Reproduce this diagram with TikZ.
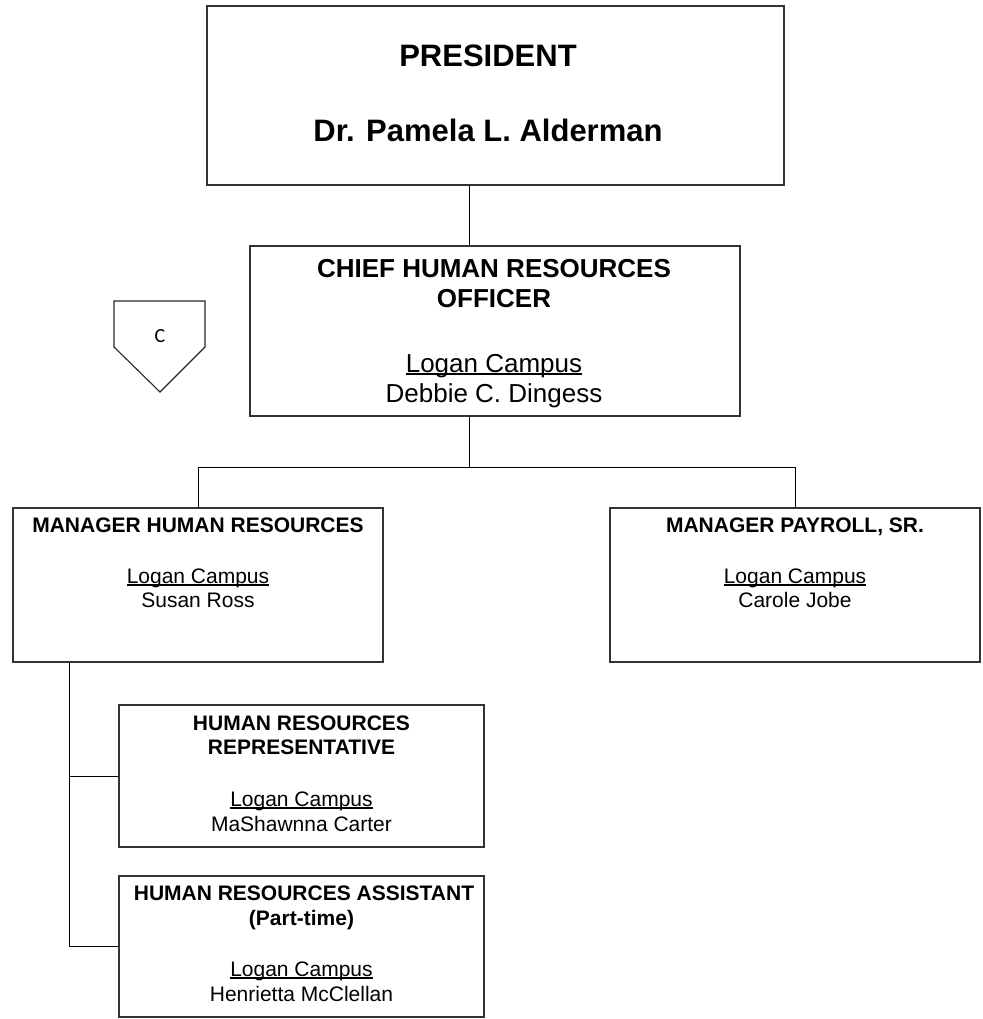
\documentclass[tikz,border=0pt]{standalone}
\usepackage{fontspec}
\setmainfont{Liberation Sans}
\newfontfamily\calfont{Carlito}
\newcommand\campusline[1]{\setbox0\hbox{#1}\rlap{\rule[-0.12em]{\wd0}{0.07em}}\box0}
\begin{document}
\begin{tikzpicture}[x=1pt,y=-1pt,
  box/.style={draw=black!80, line width=1.2pt, rectangle, inner sep=0pt},
  conn/.style={draw=black, line width=1pt},
  outl/.style={draw=black!85, line width=1.1pt, line join=miter},
  tx/.style={anchor=base, inner sep=0pt},
  bigb/.style={tx, font=\fontsize{31}{36}\selectfont\bfseries},
  midb/.style={tx, font=\fontsize{26}{30}\selectfont\bfseries},
  midr/.style={tx, font=\fontsize{26}{30}\selectfont},
  smb/.style={tx, font=\fontsize{21}{24}\selectfont\bfseries},
  smr/.style={tx, font=\fontsize{21}{24}\selectfont}]
\useasboundingbox (0,0) rectangle (982,1019);
\fill[white] (0,0) rectangle (982,1019);

% boxes
\node[box, minimum width=577pt, minimum height=179pt] (pres) at (495.5,95.5) {};
\node[box, minimum width=490pt, minimum height=170pt] (chro) at (495,331) {};
\node[box, minimum width=370pt, minimum height=154pt] (mhr) at (198,585) {};
\node[box, minimum width=370pt, minimum height=154pt] (mpay) at (795,585) {};
\node[box, minimum width=365pt, minimum height=142pt] (rep) at (301.5,776) {};
\node[box, minimum width=365pt, minimum height=141pt] (asst) at (301.5,946.5) {};

% texts
\node[bigb] (presA) at (488,67) {PRESIDENT};
\node[bigb] (presB) at (488,142) {Dr. Pamela L. Alderman};

\node[midb] (chroA) at (494,277) {CHIEF HUMAN RESOURCES};
\node[midb] (chroB) at (494,307) {OFFICER};
\node[midr] (chroC) at (494,372) {\campusline{Logan Campus}};
\node[midr] (chroD) at (494,402) {Debbie C. Dingess};

\node[smb] (mhrA) at (198,532) {MANAGER HUMAN RESOURCES};
\node[smr] (mhrB) at (198,583) {\campusline{Logan Campus}};
\node[smr] (mhrC) at (198,607) {Susan Ross};

\node[smb] (mpayA) at (795,532) {MANAGER PAYROLL, SR.};
\node[smr] (mpayB) at (795,583) {\campusline{Logan Campus}};
\node[smr] (mpayC) at (795,607) {Carole Jobe};

\node[smb] (repA) at (301.5,730) {HUMAN RESOURCES};
\node[smb] (repB) at (301.5,754) {REPRESENTATIVE};
\node[smr] (repC) at (301.5,806) {\campusline{Logan Campus}};
\node[smr] (repD) at (301.5,831) {MaShawnna Carter};

\node[smb] (asstA) at (304,900) {HUMAN RESOURCES ASSISTANT};
\node[smb] (asstB) at (301.5,925) {(Part-time)};
\node[smr] (asstC) at (301.5,976) {\campusline{Logan Campus}};
\node[smr] (asstD) at (301.5,1001) {Henrietta McClellan};

% off-page connector
\node[inner sep=0pt, font=\calfont\fontsize{20}{24}\selectfont] (pg) at (160,336) {C};
\draw[outl] (114,301) -- (205,301) -- (205,347) -- (160,392) -- (114,347) -- cycle;

% connectors
\coordinate (bus) at (469,467);
\coordinate (spine) at (69,700);
\draw[conn] (pres.south -| bus) -- (chro.north -| bus);
\draw[conn] (chro.south -| bus) -- (bus);
\draw[conn] (mhr.north) -- (mhr.north |- bus) -- (mpay.north |- bus) -- (mpay.north);
\draw[conn] (spine |- mhr.south) -- (spine |- asst.west) -- (asst.west);
\draw[conn] (spine |- rep.west) -- (rep.west);
\end{tikzpicture}
\end{document}
